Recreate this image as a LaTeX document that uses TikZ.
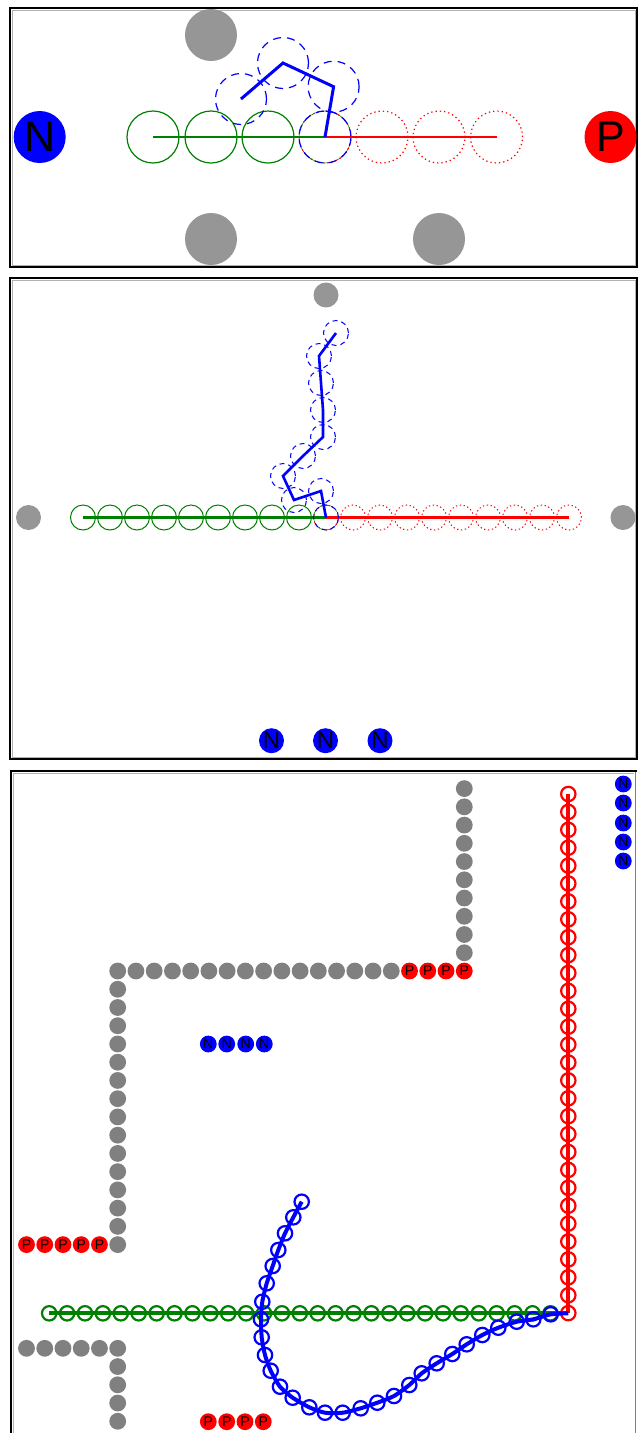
\documentclass[tikz,border=0pt]{standalone}
\usepackage{fontspec}
\setmainfont{Liberation Sans}
\definecolor{gA}{RGB}{150,150,150}
\definecolor{gB}{RGB}{128,128,128}
\definecolor{grn}{RGB}{0,128,0}
\definecolor{rd}{RGB}{255,0,0}
\definecolor{bl}{RGB}{0,0,255}
\begin{document}
\begin{tikzpicture}[x=1pt,y=-1pt,
  frame/.style={line width=2pt,draw=black},
  ion/.style={circle,inner sep=0pt,text=black},
  gdot/.style={circle,inner sep=0pt,fill=gB,minimum size=16.8pt},
  nsm/.style={ion,fill=bl,minimum size=16.8pt,font=\fontsize{14}{14}\selectfont},
  psm/.style={ion,fill=rd,minimum size=16.8pt,font=\fontsize{14}{14}\selectfont},
  dashc/.style={draw=bl,line width=1.2pt,dash pattern=on 8pt off 6pt},
  dashs/.style={draw=bl,line width=1pt,dash pattern=on 5pt off 4pt},
  dotr/.style={draw=rd,line width=1.2pt,dash pattern=on 1.3pt off 3pt},
  dotrs/.style={draw=rd,line width=1pt,dash pattern=on 1.3pt off 2.6pt}]
\useasboundingbox (0,0) rectangle (638,1433);
\fill[white] (0,0) rectangle (638,1433);

% ---------------- Panel 1 ----------------
\draw[gray!60,line width=0.8pt] (12,10) rectangle (635,265);
\draw[frame] (10,8) rectangle (637,266.5);
\fill[gA] (211,35) circle (26pt);
\fill[gA] (211,239) circle (26pt);
\fill[gA] (439,239) circle (26pt);
\node[ion,fill=bl,minimum size=52pt,font=\fontsize{43}{43}\selectfont] (N1) at (39.7,137) {N};
\node[ion,fill=rd,minimum size=52pt,font=\fontsize{43}{43}\selectfont] (P1) at (610.5,137) {P};
\foreach \x in {153,211,268} \draw[grn,line width=1.2pt] (\x,137) circle (26pt);
\foreach \x in {382,439,496.6} \draw[dotr] (\x,137) circle (26pt);
\draw[grn,line width=0.6pt] (325,137) circle (26pt);
\draw[dotr] (325,137) circle (26pt);
\draw[dashc] (325,137) circle (26pt);
\draw[grn,line width=2.2pt] (153,137) -- (325,137);
\draw[rd,line width=2.2pt] (325,137) -- (497,137);
\foreach \p in {(241,99),(283,63),(333.6,86.7)} \draw[dashc] \p circle (25.5pt);
\draw[bl,line width=3pt,line join=miter] (241,99) -- (283,63) -- (333.6,86.7) -- (325,137);

% ---------------- Panel 2 ----------------
\draw[gray!60,line width=0.8pt] (12,280) rectangle (635,757);
\draw[frame] (10,278) rectangle (637,759);
\fill[gA] (326,295) circle (12.5pt);
\fill[gA] (28.5,517.5) circle (12.5pt);
\fill[gA] (623,517.5) circle (12.5pt);
\foreach \k in {0,...,8} \draw[grn,line width=1pt] ({83+27*\k},517.5) circle (12.5pt);
\foreach \k in {1,...,9} \draw[dotrs] ({326+27*\k},517.5) circle (12.5pt);
\draw[grn,line width=0.5pt] (326,517.5) circle (12.5pt);
\draw[dotrs] (326,517.5) circle (12.5pt);
\draw[grn,line width=2.4pt] (83,517.5) -- (326,517.5);
\draw[rd,line width=2.4pt] (326,517.5) -- (569,517.5);
\foreach \p in {(336,333),(319,356),(321,383),(323,410),(323,437),(303,456),(283,476),(294,500),(321,491),(326,517.5)}
  \draw[dashs] \p circle (12.5pt);
\draw[bl,line width=2.6pt,line join=miter] (336,333) -- (319,356) -- (321,383) -- (323,410) -- (323,437) -- (303,456) -- (283,476) -- (294,500) -- (321,491) -- (326,517.5);
\foreach \x/\n in {271.5/a,325.5/b,380/c}
  \node[ion,fill=bl,minimum size=25pt,font=\fontsize{24}{24}\selectfont] (N2\n) at (\x,740.7) {N};

% ---------------- Panel 3 ----------------
\draw[gray!60,line width=0.8pt] (13,1433) -- (13,773) -- (634,773);
\draw[gray,line width=1pt] (635.5,771) -- (635.5,1433);
\draw[frame] (11,1433) -- (11,771) -- (636.5,771);
% gray walls
\foreach \k in {0,...,15} \node[gdot] (ga\k) at ({117.7+18.24*\k},971) {};
\foreach \k in {16,...,19} \node[psm] (pa\k) at ({117.7+18.24*\k},971) {P};
\foreach \j in {1,...,10} \node[gdot] (gb\j) at (464.3,{971-18.24*\j}) {};
\foreach \j in {1,...,15} \node[gdot] (gc\j) at (117.7,{971+18.24*\j}) {};
\foreach \j in {1,...,5} \node[psm] (pb\j) at ({117.7-18.24*\j},1244.6) {P};
\foreach \j in {0,...,5} \node[gdot] (gd\j) at ({117.7-18.24*\j},1348.3) {};
\foreach \j in {1,...,4} \node[gdot] (ge\j) at (117.7,{1348.3+18.24*\j}) {};
\foreach \x/\n in {208.3/a,226.7/b,245/c,263.3/d} \node[psm] (pc\n) at (\x,1421.7) {P};
\foreach \x/\n in {208.3/a,226.7/b,245.7/c,264.3/d} \node[nsm] (nb\n) at (\x,1044) {N};
\foreach \y/\n in {784/a,803/b,823/c,842/d,861/e} \node[nsm] (nc\n) at (623.3,\y) {N};
% green chain
\draw[grn,line width=4pt] (49.2,1313.3) -- (568.3,1313.3);
\foreach \k in {1,...,29} \draw[grn,line width=2.2pt] ({568.3-17.9*\k},1313.3) circle (7.2pt);
% red chain
\draw[rd,line width=4pt] (568.3,794) -- (568.3,1313.3);
\foreach \k in {0,...,29} \draw[rd,line width=2.2pt] (568.3,{794+17.9*\k}) circle (7.2pt);
% blue chain
\draw[bl,line width=4pt,line join=round] plot[smooth,tension=0.4] coordinates {(301.7,1201.7) (293.3,1217.3) (285,1233.3) (278.3,1250) (272.7,1266) (266.7,1283.3) (262.3,1301.7) (261,1319.3) (261.7,1337.3) (265,1355) (270.7,1370.7) (280,1386.7) (292.7,1397.7) (309.3,1407.3) (325,1412.7) (342.7,1412.7) (360.7,1408.3) (377.3,1402.7) (394,1396) (409.3,1385) (421.7,1373.3) (436.7,1363.3) (452.3,1354) (466.7,1344.3) (482.3,1335) (498.3,1327.7) (516.7,1321.7) (533.3,1319.3) (550.7,1314.3) (568.3,1313.3)};
\foreach \p in {(301.7,1201.7),(293.3,1217.3),(285,1233.3),(278.3,1250),(272.7,1266),(266.7,1283.3),(262.3,1301.7),(261,1319.3),(261.7,1337.3),(265,1355),(270.7,1370.7),(280,1386.7),(292.7,1397.7),(309.3,1407.3),(325,1412.7),(342.7,1412.7),(360.7,1408.3),(377.3,1402.7),(394,1396),(409.3,1385),(421.7,1373.3),(436.7,1363.3),(452.3,1354),(466.7,1344.3),(482.3,1335),(498.3,1327.7),(516.7,1321.7),(533.3,1319.3),(550.7,1314.3)}
  \draw[bl,line width=2.2pt] \p circle (7.2pt);
\end{tikzpicture}
\end{document}
